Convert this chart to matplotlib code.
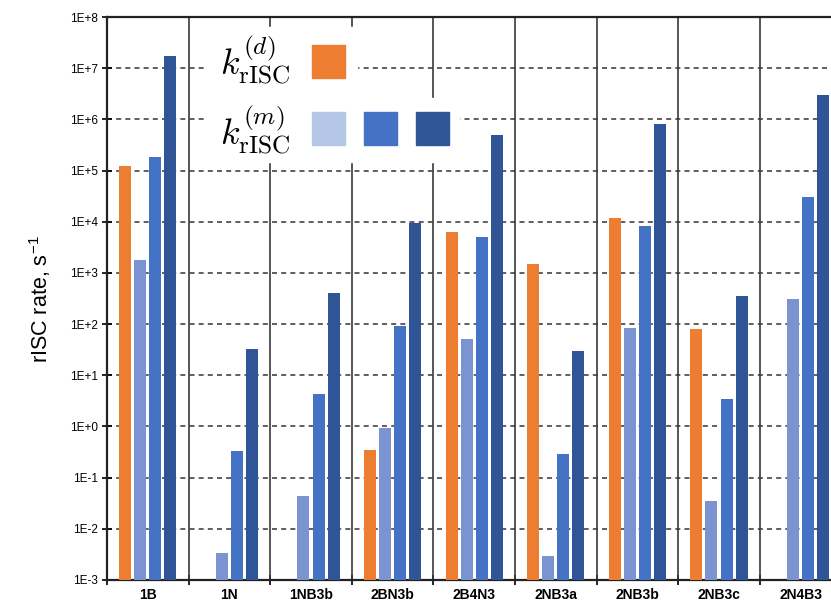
import numpy as np
import matplotlib.pyplot as plt
from matplotlib.patches import Rectangle
from matplotlib.ticker import FixedLocator, NullLocator, FuncFormatter

plt.rcParams['font.family'] = ['Liberation Sans', 'DejaVu Sans']
plt.rcParams['mathtext.fontset'] = 'cm'

# molecules along the x axis
molecules = ['1B', '1N', '1NB3b', '2BN3b', '2B4N3', '2NB3a', '2NB3b', '2NB3c', '2N4B3']

# rISC rates (s^-1); nan = no bar
k_d = [1.2e5, np.nan, np.nan, 0.35, 6.2e3, 1.5e3, 1.2e4, 81, np.nan]
k_m1 = [1.8e3, 3.4e-3, 0.044, 0.93, 51, 2.9e-3, 85, 0.035, 310]
k_m2 = [1.8e5, 0.33, 4.4, 92, 5.1e3, 0.29, 8.3e3, 3.4, 3.0e4]
k_m3 = [1.7e7, 33, 410, 9.5e3, 5.0e5, 30, 8.2e5, 350, 3.0e6]

orange = '#ED7D31'
light = '#7B93D0'
light_leg = '#B4C7E7'
mid = '#4472C4'
dark = '#2F5597'

fig = plt.figure(figsize=(8.31, 6.03), dpi=100)
# axes runs a little past the right edge, as in the cropped original
ax = fig.add_axes([107 / 831, 23 / 603, 734.4 / 831, 563 / 603])

x = np.arange(len(molecules)) + 0.5
step = 0.184
w = 0.147
series = [(k_d, orange), (k_m1, light), (k_m2, mid), (k_m3, dark)]
for i, (vals, col) in enumerate(series):
    ax.bar(x + (i - 1.5) * step, vals, width=w, color=col, zorder=3)

ax.set_yscale('log')
ax.set_ylim(1e-3, 1e8)
ax.set_xlim(0, len(molecules))

decades = 10.0 ** np.arange(-3, 9)
ax.yaxis.set_major_locator(FixedLocator(decades))
ax.yaxis.set_minor_locator(NullLocator())
ax.yaxis.set_major_formatter(FuncFormatter(lambda v, p: '1E%+d' % round(np.log10(v))))
for d in decades[1:-1]:
    ax.axhline(d, color='#444444', lw=1.2, ls=(0, (3, 2.5)), zorder=1)

# category separators
for b in range(1, len(molecules)):
    ax.axvline(b, color='#3a3a3a', lw=1.2, zorder=2)

ax.set_xticks(np.arange(len(molecules) + 1))
ax.set_xticklabels([])
ax.set_xticks(x, minor=True)
ax.set_xticklabels(molecules, minor=True, fontsize=10, fontweight='bold')
ax.tick_params(axis='x', which='minor', length=0, pad=6)
ax.tick_params(axis='x', which='major', direction='inout', length=7, width=1.2)
ax.tick_params(axis='y', direction='inout', length=7, width=1.2, labelsize=8.5, pad=3)

for s in ['left', 'bottom', 'top']:
    ax.spines[s].set_linewidth(1.6)
    ax.spines[s].set_color('#222222')
ax.spines['right'].set_visible(False)

ax.set_ylabel('rISC rate, s$^{\\mathregular{-1}}$', fontsize=15.5, labelpad=12)

# legend drawn by hand: white panels, math labels and colour squares
def fx(px):
    return (px - 107) / 734.4

def fy(py):
    return (580 - py) / 563

ax.add_patch(Rectangle((fx(205), fy(98)), fx(357) - fx(205), fy(27) - fy(98),
                       transform=ax.transAxes, color='white', zorder=4))
ax.add_patch(Rectangle((fx(205), fy(162)), fx(459) - fx(205), fy(98) - fy(162),
                       transform=ax.transAxes, color='white', zorder=4))
ax.text(fx(220), fy(61), r'$k_{\mathrm{rISC}}^{(d)}$', transform=ax.transAxes,
        fontsize=26, va='center', ha='left', zorder=5)
ax.text(fx(220), fy(131), r'$k_{\mathrm{rISC}}^{(m)}$', transform=ax.transAxes,
        fontsize=26, va='center', ha='left', zorder=5)
sq = 33
for px, py, col in [(312, 45, orange), (312, 112, light_leg), (364, 112, mid), (416, 112, dark)]:
    ax.add_patch(Rectangle((fx(px), fy(py + sq)), fx(px + sq) - fx(px), fy(py) - fy(py + sq),
                           transform=ax.transAxes, color=col, zorder=5))

fig.savefig('out.png', dpi=100)
